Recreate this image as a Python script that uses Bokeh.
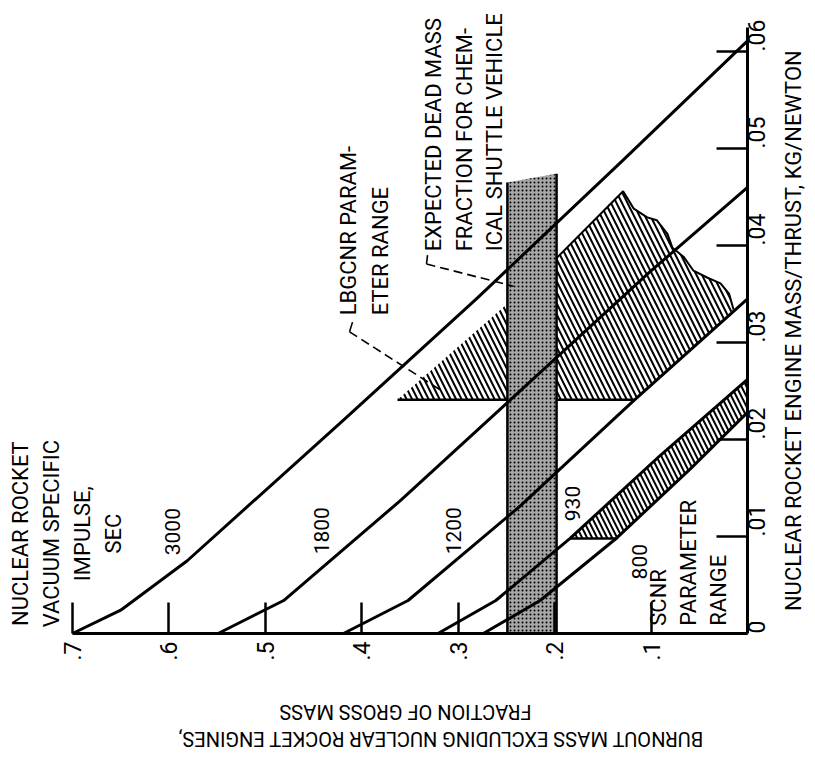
from math import pi
from bokeh.plotting import figure
from bokeh.models import Range1d, LinearAxis, FixedTicker, CustomJSTickFormatter, Grid
from bokeh.core.properties import value
from bokeh.embed import file_html
from bokeh.resources import INLINE

FONT = "Roboto"

# ---------------- data (burnout mass fraction, engine mass/thrust) ----------------
isp_names = ["3000", "1800", "1200", "930", "800"]
frac_3000 = [0.700, 0.650, 0.581, 0.419, 0.280, 0.129, 0.0]
mt_3000 = [0.0, 0.0024, 0.0075, 0.0220, 0.0346, 0.0488, 0.0611]
frac_1800 = [0.549, 0.481, 0.360, 0.249, 0.101, 0.0]
mt_1800 = [0.0, 0.0034, 0.0137, 0.0238, 0.0373, 0.0460]
frac_1200 = [0.419, 0.352, 0.235, 0.118, 0.0]
mt_1200 = [0.0, 0.0034, 0.0132, 0.0240, 0.0345]
frac_930 = [0.321, 0.261, 0.184, 0.090, 0.0]
mt_930 = [0.0, 0.0034, 0.0098, 0.0184, 0.0262]
frac_800 = [0.274, 0.215, 0.135, 0.059, 0.0]
mt_800 = [0.0, 0.0034, 0.0099, 0.0170, 0.0228]

# LBGCNR parameter range (hatched)
lbg_frac = [0.363, 0.249, 0.198, 0.129, 0.118, 0.104, 0.094, 0.083, 0.078, 0.066,
            0.056, 0.042, 0.028, 0.019, 0.0145, 0.059, 0.118]
lbg_mt = [0.0241, 0.0340, 0.0387, 0.0456, 0.0438, 0.0429, 0.0426, 0.0412, 0.0398, 0.0388,
          0.0374, 0.0367, 0.0361, 0.0350, 0.0334, 0.0293, 0.0241]
# SCNR parameter range lower limit of mass/thrust
scnr_mt_min = 0.0098

# expected dead mass fraction band for chemical shuttle vehicle
band_frac = [0.249, 0.198]
band_top = [0.0465, 0.0474]

frac_ticks = [0.1, 0.2, 0.3, 0.4, 0.5, 0.6, 0.7]
mt_ticks = [0.0, 0.01, 0.02, 0.03, 0.04, 0.05, 0.06]

# leader lines (hook + dashed run)
lead_lbg_frac = [0.4127, 0.3184]
lead_lbg_mt = [0.0311, 0.0251]
hook_lbg_frac = [0.4096, 0.4127]
hook_lbg_mt = [0.0321, 0.0311]
lead_exp_frac = [0.3329, 0.2427]
lead_exp_mt = [0.0381, 0.0358]
hook_exp_frac = [0.3318, 0.3329]
hook_exp_mt = [0.0390, 0.0381]

# ---------------- figure (frame covers the whole canvas, axes at fixed locations) ----------------
p = figure(frame_width=807, frame_height=758,
           x_range=Range1d(0.77466, -0.06222), y_range=Range1d(-0.012887, 0.065258),
           x_axis_location=None, y_axis_location=None,
           output_backend="svg", toolbar_location=None,
           min_border_left=0, min_border_top=0, min_border_right=0, min_border_bottom=0)
p.center = [r for r in p.center if not isinstance(r, Grid)]
p.outline_line_color = None
p.background_fill_color = "white"
p.border_fill_color = "white"

# hatched regions
p.patch(lbg_frac, lbg_mt, fill_color="white", line_color=None,
        hatch_pattern="left_diagonal_line", hatch_color="black", hatch_scale=11, hatch_weight=2)
p.line(lbg_frac[2:15], lbg_mt[2:15], line_color="black", line_width=2)
p.line([lbg_frac[0], lbg_frac[-1]], [lbg_mt[0], lbg_mt[-1]], line_color="black", line_width=2.5)

scnr_f = frac_930[2:] + frac_800[2:][::-1]
scnr_m = [scnr_mt_min] + mt_930[3:] + mt_800[2:][::-1][:-1] + [scnr_mt_min]
p.patch(scnr_f, scnr_m, fill_color="white", line_color=None,
        hatch_pattern="left_diagonal_line", hatch_color="black", hatch_scale=10, hatch_weight=2)
p.line([frac_930[2], frac_800[2]], [scnr_mt_min, scnr_mt_min], line_color="black", line_width=2.5)

# stippled band
p.patch([band_frac[0], band_frac[0], band_frac[1], band_frac[1]],
        [0.0, band_top[0], band_top[1], 0.0],
        fill_color="#a6a6a6", line_color=None,
        hatch_pattern="dot", hatch_color="black", hatch_scale=4, hatch_weight=1.4)
p.segment(x0=band_frac, y0=[0.0, 0.0], x1=band_frac, y1=band_top, line_color="black", line_width=2.5)

# isp curves
for fr, mt in [(frac_3000, mt_3000), (frac_1800, mt_1800), (frac_1200, mt_1200),
               (frac_930, mt_930), (frac_800, mt_800)]:
    p.line(fr, mt, line_color="black", line_width=3)

# leaders
p.line(lead_lbg_frac, lead_lbg_mt, line_color="black", line_width=1.6, line_dash="9 5")
p.line(lead_exp_frac, lead_exp_mt, line_color="black", line_width=1.6, line_dash="9 5")
p.line(hook_lbg_frac, hook_lbg_mt, line_color="black", line_width=1.6)
p.line(hook_exp_frac, hook_exp_mt, line_color="black", line_width=1.6)

# curve labels
p.text(x=[0.5963, 0.4418, 0.3049, 0.1815, 0.1120],
       y=[0.0105, 0.0106, 0.0106, 0.0134, 0.0074],
       text=isp_names, angle=pi / 2, text_font=value(FONT), text_font_size="21px",
       text_align="center", text_baseline="middle", text_color="black")

# block texts
p.text(x=[0.7062], y=[0.0103],
       text=["NUCLEAR ROCKET\nVACUUM SPECIFIC\nIMPULSE,\nSEC"],
       angle=pi / 2, text_font=value(FONT), text_font_size="22px", text_line_height=1.24,
       text_align="center", text_baseline="middle", text_color="black")
p.text(x=[0.3972], y=[0.0328], text=["LBGCNR PARAM-\nETER RANGE"],
       angle=pi / 2, text_font=value(FONT), text_font_size="22px", text_line_height=1.25,
       text_align="left", text_baseline="middle", text_color="black")
p.text(x=[0.2935], y=[0.0394],
       text=["EXPECTED DEAD MASS\nFRACTION FOR CHEM-\nICAL SHUTTLE VEHICLE"],
       angle=pi / 2, text_font=value(FONT), text_font_size="22px", text_line_height=1.22,
       text_align="left", text_baseline="middle", text_color="black")
p.text(x=[0.0612], y=[0.0008], text=["SCNR\nPARAMETER\nRANGE"],
       angle=pi / 2, text_font=value(FONT), text_font_size="22px", text_line_height=1.2,
       text_align="left", text_baseline="middle", text_color="black")

# axis titles (right one reads upward, bottom one is upside down as in the source)
p.text(x=[-0.0477], y=[0.03124], text=["NUCLEAR ROCKET ENGINE MASS/THRUST, KG/NEWTON"],
       angle=pi / 2, text_font=value(FONT), text_font_size="22px",
       text_align="center", text_baseline="middle", text_color="black")
p.text(x=[0.3546, 0.3184], y=[-0.00814, -0.01083],
       text=["FRACTION OF GROSS MASS", "BURNOUT MASS EXCLUDING NUCLEAR ROCKET ENGINES,"],
       angle=pi, text_font=value(FONT), text_font_size="20px",
       text_align="center", text_baseline="middle", text_color="black")

# axes
common = dict(axis_line_width=3, axis_line_color="black",
              major_tick_line_width=2.5, major_tick_line_color="black",
              major_tick_in=31, major_tick_out=0,
              minor_tick_line_color=None,
              major_label_text_font=FONT, major_label_text_color="black",
              major_label_orientation=pi / 2)

xaxis = LinearAxis(ticker=FixedTicker(ticks=frac_ticks, minor_ticks=[]), bounds=(0.0, 0.7),
                   fixed_location=0.0,
                   formatter=CustomJSTickFormatter(code="return tick.toFixed(1).replace(/^0/, '')"),
                   major_label_text_font_size="23px", major_label_standoff=8, **common)
p.add_layout(xaxis, "below")

yaxis = LinearAxis(ticker=FixedTicker(ticks=mt_ticks, minor_ticks=[]), bounds=(0.0, 0.0625),
                   fixed_location=0.0,
                   formatter=CustomJSTickFormatter(code="return tick == 0 ? '0' : tick.toFixed(2).replace(/^0/, '')"),
                   major_label_text_font_size="23px", major_label_standoff=9, **common)
p.add_layout(yaxis, "right")

open("out.html", "w").write(file_html(p, INLINE))
